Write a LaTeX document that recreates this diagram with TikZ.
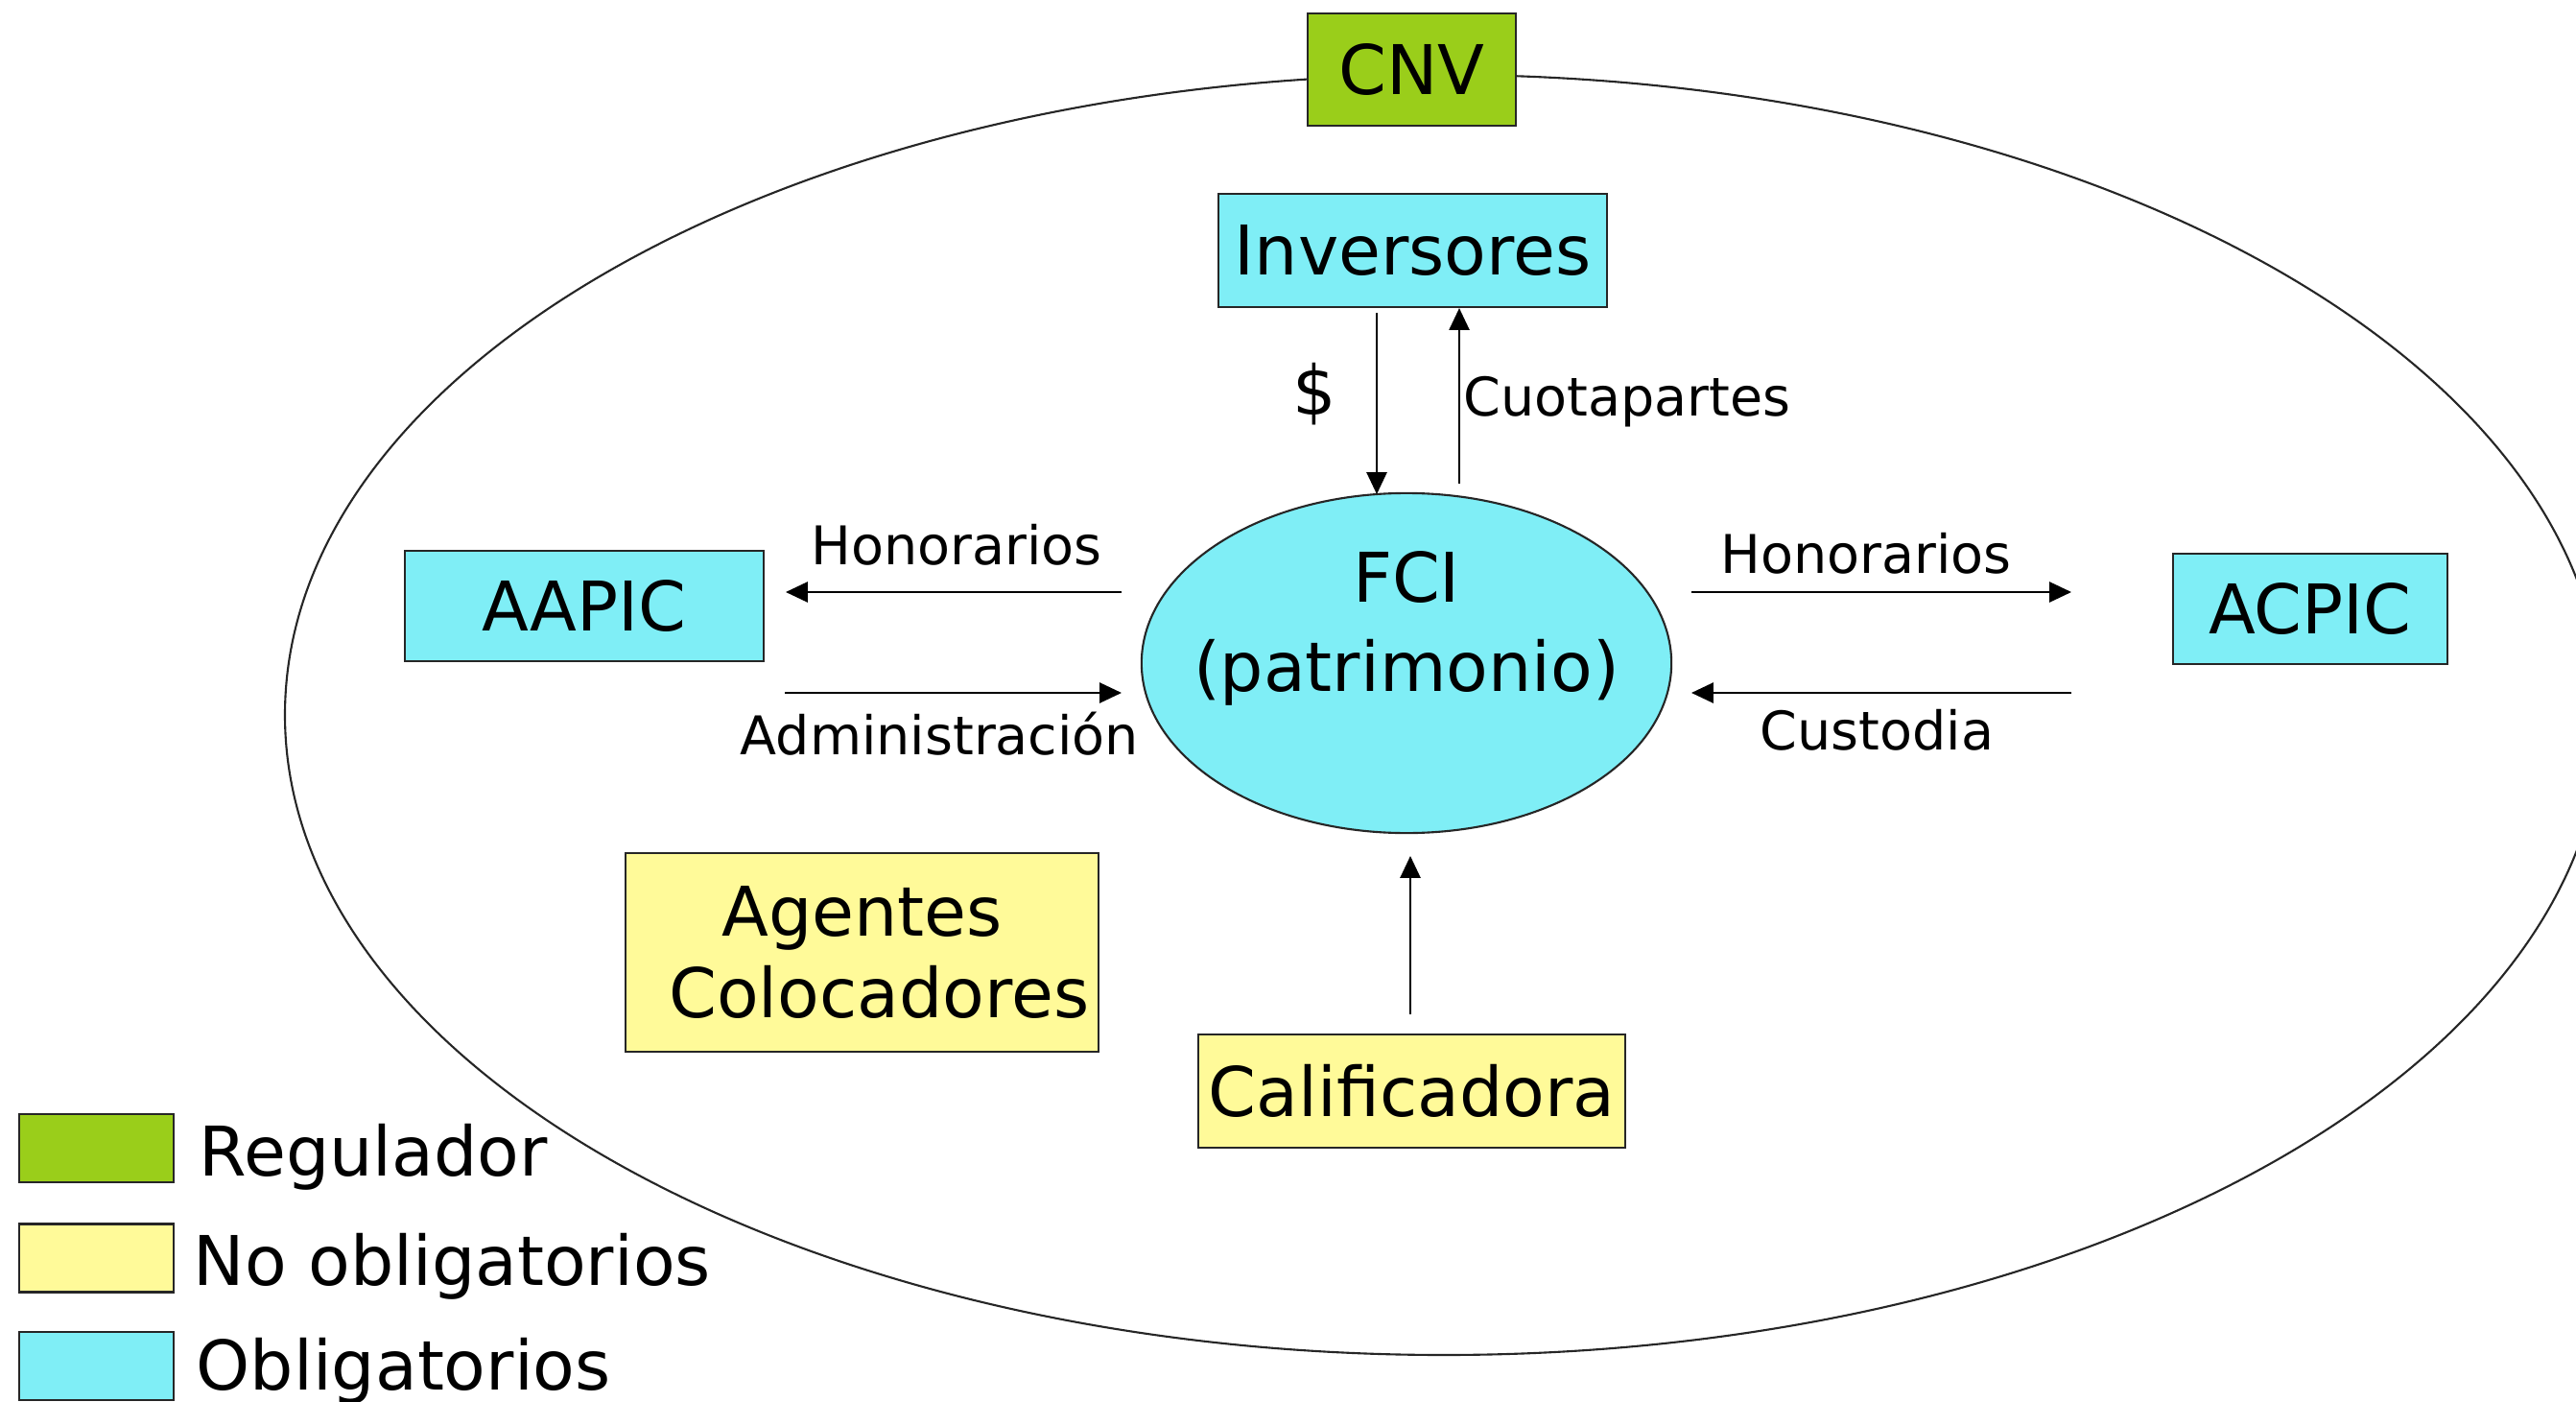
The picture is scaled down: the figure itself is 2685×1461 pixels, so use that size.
\documentclass[tikz,border=0pt]{standalone}
\usepackage{fontspec}
\setmainfont{DejaVu Sans}
\usetikzlibrary{arrows.meta,shapes.geometric}
\definecolor{cnvgreen}{RGB}{154,206,26}
\definecolor{obcyan}{RGB}{127,238,246}
\definecolor{noyellow}{RGB}{255,250,153}
\begin{document}
\begin{tikzpicture}[x=0.01cm,y=-0.01cm,
  box/.style={draw=black!85, line width=0.6pt, inner sep=0pt, anchor=center, align=center},
  big/.style={font=\fontsize{20.3}{24.5}\selectfont},
  small/.style={font=\fontsize{15.8}{19}\selectfont},
  lbl/.style={inner sep=0pt, anchor=base west},
  arr/.style={line width=0.6pt, -{Triangle[length=6.5pt,width=6pt]}},
]
\useasboundingbox (0,0) rectangle (2685,1461);
\clip (0,0) rectangle (2685,1461);
% outer ellipse
\draw[line width=0.6pt, black!85] (1505,745) ellipse [x radius=1208, y radius=667];
% nodes
\node[box, big, fill=cnvgreen, minimum width=2.17cm, minimum height=1.17cm] (cnv) at (1471.5,72.5) {CNV};
\node[box, big, fill=obcyan, minimum width=4.05cm, minimum height=1.18cm] (inv) at (1472.5,261) {Inversores};
\node[box, big, fill=obcyan, minimum width=3.74cm, minimum height=1.15cm] (aapic) at (609,631.5) {AAPIC};
\node[box, big, fill=obcyan, minimum width=2.86cm, minimum height=1.15cm] (acpic) at (2408,634.5) {ACPIC};
\node[box, ellipse, fill=obcyan, minimum width=5.52cm, minimum height=3.54cm] (fci) at (1466,691) {};
\node[big, align=center, inner sep=0pt, font=\fontsize{20.3}{26.5}\selectfont] (fcitext) at (1466,655) {FCI\\(patrimonio)};
\node[box, fill=noyellow, minimum width=4.93cm, minimum height=2.07cm, font=\fontsize{20.3}{24.2}\selectfont] (agentes) at (898.5,992.5) {Agentes\\\hspace*{0.5em}Colocadores};
\node[box, big, fill=noyellow, minimum width=4.45cm, minimum height=1.18cm] (calif) at (1471.5,1137) {Calificadora};
% legend
\node[box, fill=cnvgreen, minimum width=1.61cm, minimum height=0.71cm] (legreg) at (100.5,1196.5) {};
\node[box, fill=noyellow, minimum width=1.61cm, minimum height=0.71cm] (legno) at (100.5,1311) {};
\node[box, fill=obcyan, minimum width=1.61cm, minimum height=0.71cm] (legob) at (100.5,1423.5) {};
\node[lbl, big] (treg) at (207,1225) {Regulador};
\node[lbl, big] (tno) at (201,1339) {No obligatorios};
\node[lbl, big] (tob) at (204,1448) {Obligatorios};
% labels
\node[big, inner sep=0pt] (dollar) at (1370,411) {\$};
\node[lbl, small] (cuota) at (1525,434) {Cuotapartes};
\node[lbl, small] (honl) at (845,588) {Honorarios};
\node[lbl, small] (adm) at (771,786) {Administración};
\node[lbl, small] (honr) at (1793,597) {Honorarios};
\node[lbl, small] (cust) at (1834,781) {Custodia};
% connector ends
\coordinate (dA) at (1435,326);
\coordinate (dB) at (1435,515);
\coordinate (cA) at (1521,504);
\coordinate (hlA) at (1169,617);
\coordinate (hlB) at (819,617);
\coordinate (adA) at (818,722);
\coordinate (adB) at (1169,722);
\coordinate (hrA) at (1763,617);
\coordinate (hrB) at (2159,617);
\coordinate (cuA) at (2159,722);
\coordinate (cuB) at (1763,722);
\coordinate (caA) at (1470,1057);
\coordinate (caB) at (1470,892);
% connectors
\draw[arr] (dA) -- (dB);
\draw[arr] (cA) -- (cA |- inv.south);
\draw[arr] (hlA) -- (hlB);
\draw[arr] (adA) -- (adB);
\draw[arr] (hrA) -- (hrB);
\draw[arr] (cuA) -- (cuB);
\draw[arr] (caA) -- (caB);
\end{tikzpicture}
\end{document}
